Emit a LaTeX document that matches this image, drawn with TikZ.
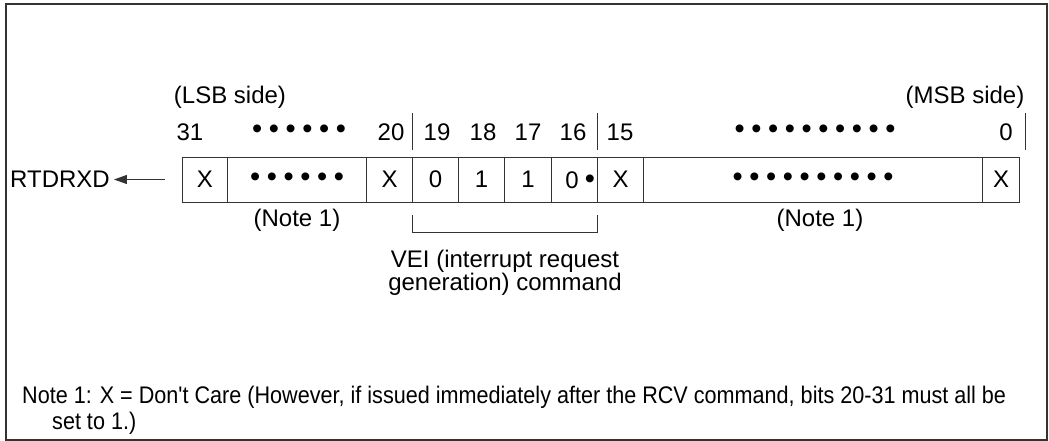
\documentclass[tikz,border=0pt]{standalone}
\usepackage{fontspec}
\setmainfont{Liberation Sans}
\newfontfamily\narrowfont[FakeStretch=0.9]{Liberation Sans}
\usetikzlibrary{arrows.meta}
\definecolor{linegray}{HTML}{333333}
\newcommand{\bigbullet}{{\fontsize{29}{26}\selectfont\textbullet}}
\newcommand{\bitdots}[1]{\foreach \i in {1,...,#1}{\ifnum\i>1\hspace{6.6pt}\fi\bigbullet}}
\begin{document}
\begin{tikzpicture}[x=1pt,y=-1pt,
  every node/.style={font=\fontsize{24}{26}\selectfont, inner sep=0pt},
  cell/.style={draw=linegray, line width=1pt, minimum height=45pt, anchor=west},
  tick/.style={draw=linegray, line width=0.9pt}]
\useasboundingbox (0,0) rectangle (1049,441);
\draw[linegray, line width=1.5pt] (6,4) rectangle (1047,440);

% register cells
\node[cell, minimum width=45pt] (c31) at (182,179.5) {X};
\node[cell, minimum width=139pt] (cdl) at (227,179.5) {\bitdots{6}};
\node[cell, minimum width=46pt] (c20) at (366,179.5) {X};
\node[cell, minimum width=46pt] (c19) at (412,179.5) {0};
\node[cell, minimum width=46pt] (c18) at (458,179.5) {1};
\node[cell, minimum width=47pt] (c17) at (504,179.5) {1};
\node[cell, minimum width=46pt] (c16) at (551,179.5) {};
\node[cell, minimum width=46pt] (c15) at (597,179.5) {X};
\node[cell, minimum width=339pt] (cdr) at (643,179.5) {\bitdots{10}};
\node[cell, minimum width=37pt] (c0) at (982,179.5) {X};
\node[anchor=base] (z16) at ([yshift=-8.6pt]c16.center -| 572,0) {0};
\node[anchor=base] (d16) at (z16.base -| 590,0) {\bigbullet};

% RTDRXD and arrow
\node[anchor=west] (rt) at (10,179.5) {RTDRXD};
\coordinate (arrs) at (165,179.5);
\draw[linegray, line width=1pt, -{Triangle[length=13pt,width=9pt]}] (arrs) -- ([xshift=4pt]rt.east);

% side labels
\node (lsb) at (230,97) {(LSB side)};
\node (msb) at (965,97) {(MSB side)};

% bit numbers
\node (n31) at (190,132) {31};
\node (ndl) at (299,132) {\bitdots{6}};
\node (n20) at (391,132) {20};
\node (n19) at (437,132) {19};
\node (n18) at (483,132) {18};
\node (n17) at (528,132) {17};
\node (n16) at (573,132) {16};
\node (n15) at (620,132) {15};
\node (ndr) at (815,132) {\bitdots{10}};
\node (n0) at (1006,132) {0};

% ticks above
\coordinate (t1a) at (412,113); \coordinate (t1b) at (412,150);
\coordinate (t2a) at (597,113); \coordinate (t2b) at (597,150);
\coordinate (t3a) at (1025,113); \coordinate (t3b) at (1025,150);
\draw[tick] (t1a) -- (t1b);
\draw[tick] (t2a) -- (t2b);
\draw[tick] (t3a) -- (t3b);

% notes under
\node (nl) at (297,220) {(Note 1)};
\node (nr) at (820,220) {(Note 1)};

% bracket
\coordinate (b1) at (412,215); \coordinate (b2) at (412,232);
\coordinate (b3) at (597,232); \coordinate (b4) at (597,215);
\draw[tick] (b1) -- (b2) -- (b3) -- (b4);

\node[align=center, font=\fontsize{24}{23}\selectfont] (vei) at (505,273) {VEI (interrupt request\\generation) command};

% footnote
\node[anchor=west, font=\narrowfont\fontsize{24}{26}\selectfont] (note1) at (22,397) {Note 1: X = Don't Care (However, if issued immediately after the RCV command, bits 20-31 must all be};
\node[anchor=west, font=\narrowfont\fontsize{24}{26}\selectfont] (note2) at (52,423) {set to 1.)};
\end{tikzpicture}
\end{document}
